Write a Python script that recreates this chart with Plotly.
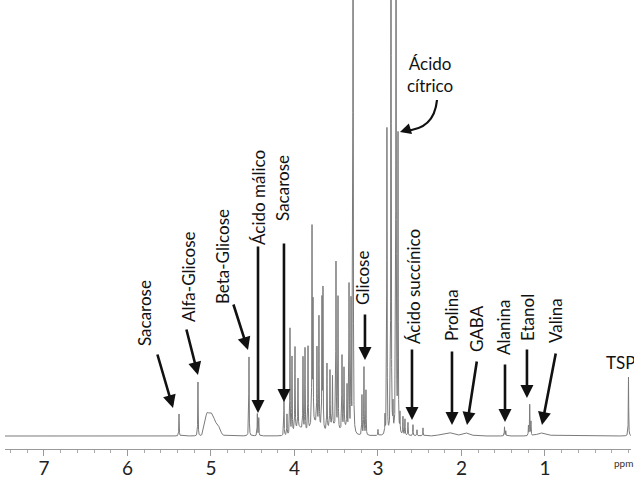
import numpy as np
import plotly.graph_objects as go

# ---- Spectrum data: sharp lines (ppm, height) ----
line_ppm = [5.383, 5.156, 4.545, 4.445, 4.428, 4.126, 4.090, 4.054, 4.030, 3.994,
            3.958, 3.898, 3.874, 3.838, 3.790, 3.778, 3.731, 3.707, 3.671, 3.659,
            3.611, 3.575, 3.545, 3.503, 3.479, 3.431, 3.407, 3.371, 3.347, 3.323,
            3.299, 3.192, 3.168, 3.144, 3.000, 2.916, 2.893, 2.844, 2.820, 2.784,
            2.760, 2.737, 2.701, 2.677, 2.641, 2.581, 2.533, 2.461, 1.485, 1.470,
            1.183, 1.168, 1.198, 0.000]
line_height = [22, 54, 79, 22, 18, 38, 21, 106, 76, 83,
               49, 73, 83, 84, 196, 119, 76, 109, 128, 139,
               66, 56, 49, 166, 133, 73, 59, 43, 146, 129,
               700, 40, 68, 45, 6, 18, 306, 700, 25, 700,
               296, 19, 18, 16, 13, 11, 6, 8, 9, 5,
               31, 14, 10, 59]

# ---- Broad humps (ppm, height, width) ----
hump_ppm = [5.05, 4.99, 4.92, 3.95, 3.75, 3.55, 3.40, 2.11, 1.93, 1.03, 2.22]
hump_height = [20, 21, 10, 8, 12, 10, 8, 3, 3, 3, 2]
hump_width = [0.025, 0.03, 0.03, 0.05, 0.06, 0.05, 0.04, 0.05, 0.04, 0.06, 0.05]

# ---- Axis ticks ----
tick_values = [0, 1, 2, 3, 4, 5, 6, 7]
tick_labels = ["", "1", "2", "3", "4", "5", "6", "7"]

# ---- Labels: text, text centre (ppm, intensity), arrow tail, arrow tip ----
labels = [
    ("Sacarose", 5.802, 123, 5.647, 83, 5.455, 28),
    ("Alfa-Glicose", 5.275, 159, 5.299, 108, 5.156, 61),
    ("Beta-Glicose", 4.868, 179, 4.737, 133, 4.557, 86),
    ("Ácido málico", 4.437, 238, 4.437, 191, 4.437, 23),
    ("Sacarose", 4.150, 248, 4.126, 194, 4.126, 34),
    ("Glicose", 3.192, 158, 3.156, 123, 3.156, 76),
    ("Ácido succínico", 2.581, 150, 2.593, 88, 2.593, 16),
    ("Prolina", 2.126, 121, 2.114, 86, 2.114, 11),
    ("GABA", 1.826, 107, 1.814, 76, 1.934, 11),
    ("Alanina", 1.503, 109, 1.479, 73, 1.479, 14),
    ("Etanol", 1.216, 119, 1.216, 88, 1.216, 38),
    ("Valina", 0.880, 115, 0.868, 84, 1.036, 11),
]

gamma = 0.0025
ppm = np.linspace(-0.03, 7.47, 15000)
ppm = np.unique(np.concatenate([ppm, np.array(line_ppm)]))
inten = np.zeros_like(ppm)
for c, h in zip(line_ppm, line_height):
    inten += h * gamma**2 / ((ppm - c) ** 2 + gamma**2)
for c, h, w in zip(hump_ppm, hump_height, hump_width):
    inten += h * np.exp(-0.5 * ((ppm - c) / w) ** 2)

fig = go.Figure()
fig.add_trace(go.Scatter(x=ppm, y=inten, mode="lines",
                         line=dict(color="#7a7a7a", width=1),
                         hoverinfo="skip", showlegend=False))

FONT = "Lato"
annotations = []
for text, tx, ty, ax, ay, hx, hy in labels:
    annotations.append(dict(x=tx, y=ty, xref="x", yref="y", text=text,
                            showarrow=False, textangle=-90,
                            xanchor="center", yanchor="middle",
                            font=dict(family=FONT, size=17, color="#111")))
    annotations.append(dict(x=hx, y=hy, ax=ax, ay=ay, xref="x", yref="y",
                            axref="x", ayref="y", text="", showarrow=True,
                            arrowhead=2, arrowsize=1, arrowwidth=2.6,
                            arrowcolor="#111", standoff=0, startstandoff=0))

annotations.append(dict(x=0.09, y=74, xref="x", yref="y", text="TSP",
                        showarrow=False, xanchor="center", yanchor="middle",
                        font=dict(family=FONT, size=17, color="#111")))
annotations.append(dict(x=2.377, y=362, xref="x", yref="y", text="Ácido<br>cítrico",
                        showarrow=False, xanchor="center", yanchor="middle",
                        align="center",
                        font=dict(family=FONT, size=17, color="#111")))
# arrowhead for the curved citric arrow
annotations.append(dict(x=2.737, y=304, ax=2.66, ay=306, xref="x", yref="y",
                        axref="x", ayref="y", text="", showarrow=True,
                        arrowhead=2, arrowsize=1, arrowwidth=2.2,
                        arrowcolor="#111", standoff=0))
annotations.append(dict(x=0.054, y=-0.031, xref="x", yref="paper", text="ppm",
                        showarrow=False, xanchor="center", yanchor="middle",
                        font=dict(family=FONT, size=10, color="#333")))

shapes = [dict(type="path", xref="x", yref="y",
               path="M 2.293,336 Q 2.33,306 2.68,305.5",
               line=dict(color="#111", width=2.2))]

fig.update_layout(
    width=634, height=480,
    margin=dict(l=5, r=3, t=0, b=31),
    paper_bgcolor="white", plot_bgcolor="white",
    annotations=annotations, shapes=shapes,
    xaxis=dict(range=[7.467, -0.03], showgrid=False, zeroline=False,
               automargin=False,
               showline=True, linecolor="#999", linewidth=1,
               ticks="outside", ticklen=6, tickcolor="#999",
               tickmode="array", tickvals=tick_values, ticktext=tick_labels,
               tickfont=dict(family=FONT, size=19, color="#222"),
               ticklabelstandoff=-4,
               minor=dict(tickmode="array",
                          tickvals=[round(v, 1) for v in np.arange(0, 7.5, 0.2)],
                          ticks="outside", ticklen=3, tickcolor="#aaa")),
    yaxis=dict(range=[-13, 436], visible=False, showgrid=False, zeroline=False,
               automargin=False),
)

fig.write_html("out.html", config={"displayModeBar": False},
               post_script="document.body.style.margin='0';document.body.style.overflow='hidden';")
